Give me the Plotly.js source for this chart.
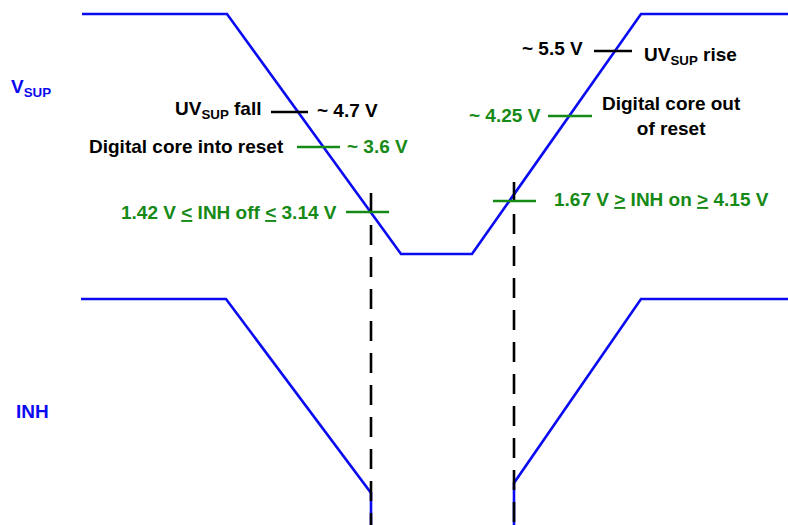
<!DOCTYPE html>
<html>
<head>
<meta charset="utf-8">
<script src="https://cdn.plot.ly/plotly-3.0.1.min.js"></script>
<style>
  html, body { margin: 0; padding: 0; background: #fff; }
  #chart { width: 788px; height: 525px; }
</style>
</head>
<body>
<div id="chart"></div>
<script>
// waveforms, in screen-like units (time to the right, level going down)
var vsupT = [82, 227, 401, 472, 641, 788];
var vsupV = [14, 14, 254, 254, 14, 14];

var inhT = [81, 226, 371, 371, null, 514, 514, 641, 788];
var inhV = [299, 299, 493, 530, null, 530, 483, 299, 299];

// dashed markers where INH switches
var markT = [371, 514];
var markTop = [193, 182];
var markBottom = 530;

// threshold ticks crossing the VSUP ramp
var thrX1 = [271, 297, 346, 594, 548, 493];
var thrX2 = [308, 340, 389, 632, 592, 536];
var thrY = [112, 147, 212, 51, 116, 201];
var thrKind = ['uv', 'core', 'inh', 'uv', 'core', 'inh'];

var BLUE = '#0b0bf2';
var GREEN = '#168a16';
var BLACK = '#000000';

var data = [];

data.push({
  x: vsupT, y: vsupV, mode: 'lines', type: 'scatter',
  line: {color: BLUE, width: 2.6}, hoverinfo: 'none'
});
data.push({
  x: inhT, y: inhV, mode: 'lines', type: 'scatter', connectgaps: false,
  line: {color: BLUE, width: 2.6}, hoverinfo: 'none'
});

// dashed verticals
var dx = [], dy = [];
for (var i = 0; i < markT.length; i++) {
  dx.push(markT[i], markT[i], null);
  dy.push(markTop[i], markBottom, null);
}
data.push({
  x: dx, y: dy, mode: 'lines', type: 'scatter',
  line: {color: BLACK, width: 2.6, dash: '20px,12px'}, hoverinfo: 'none'
});

// threshold ticks, black for UV, green for the rest
var bx = [], by = [], gx = [], gy = [];
for (var j = 0; j < thrY.length; j++) {
  if (thrKind[j] === 'uv') {
    bx.push(thrX1[j], thrX2[j], null); by.push(thrY[j], thrY[j], null);
  } else {
    gx.push(thrX1[j], thrX2[j], null); gy.push(thrY[j], thrY[j], null);
  }
}
data.push({x: bx, y: by, mode: 'lines', type: 'scatter', line: {color: BLACK, width: 2.6}, hoverinfo: 'none'});
data.push({x: gx, y: gy, mode: 'lines', type: 'scatter', line: {color: GREEN, width: 2.6}, hoverinfo: 'none'});

function lbl(x, y, text, color, anchor, align) {
  return {
    x: x, y: y, text: text, showarrow: false,
    xanchor: anchor, yanchor: 'middle', align: align || 'left',
    font: {family: 'Liberation Sans, Arial, sans-serif', size: 19, color: color, weight: 'bold'}
  };
}

var annotations = [
  lbl(9, 88, 'V<sub>SUP</sub>', BLUE, 'left'),
  lbl(14, 411, 'INH', BLUE, 'left'),
  lbl(263, 110, 'UV<sub>SUP</sub> fall', BLACK, 'right'),
  lbl(315, 110, '~ 4.7 V', BLACK, 'left'),
  lbl(286, 146, 'Digital core into reset', BLACK, 'right'),
  lbl(345, 146, '~ 3.6 V', GREEN, 'left'),
  lbl(339, 212, '1.42 V <u>&lt;</u> INH off <u>&lt;</u> 3.14 V', GREEN, 'right'),
  lbl(585, 48, '~ 5.5 V', BLACK, 'right'),
  lbl(642, 56, 'UV<sub>SUP</sub> rise', BLACK, 'left'),
  lbl(543, 115, '~ 4.25 V', GREEN, 'right'),
  lbl(671, 116, 'Digital core out<br>of reset', BLACK, 'center', 'center'),
  lbl(552, 199, '1.67 V <u>&gt;</u> INH on <u>&gt;</u> 4.15 V', GREEN, 'left')
];

var layout = {
  width: 788, height: 525,
  margin: {l: 0, r: 0, t: 0, b: 0},
  showlegend: false,
  paper_bgcolor: '#fff', plot_bgcolor: '#fff',
  xaxis: {range: [0, 788], visible: false, fixedrange: true},
  yaxis: {range: [525, 0], visible: false, fixedrange: true},
  annotations: annotations
};

Plotly.newPlot('chart', data, layout, {staticPlot: true});
</script>
</body>
</html>
